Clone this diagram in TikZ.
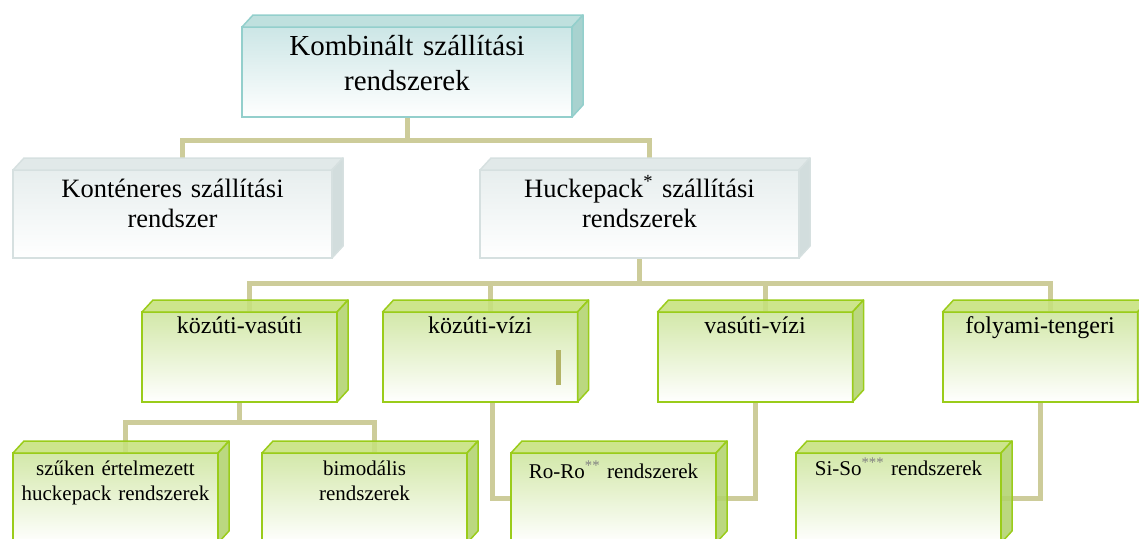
\documentclass[tikz,border=0pt]{standalone}
\usepackage{fontspec}
\setmainfont{Liberation Serif}
\usetikzlibrary{positioning,backgrounds}
\definecolor{tlEdge}{HTML}{93CFCC}
\definecolor{tlFront}{HTML}{CCE6E6}
\definecolor{tlMid}{HTML}{E2F0F0}
\definecolor{tlTop}{HTML}{BFE0DE}
\definecolor{tlSide}{HTML}{A8D2CF}
\definecolor{grEdge}{HTML}{D6E0E0}
\definecolor{grFront}{HTML}{E7EEEE}
\definecolor{grTop}{HTML}{E1E9E9}
\definecolor{grSide}{HTML}{D2DDDD}
\definecolor{gnEdge}{HTML}{9ACC1A}
\definecolor{gnFront}{HTML}{D3E8A9}
\definecolor{gnMid}{HTML}{E6F2D3}
\definecolor{gnTop}{HTML}{C6E17C}
\definecolor{gnSide}{HTML}{B2D36E}
\definecolor{lineC}{HTML}{CDCC9A}
\definecolor{barC}{HTML}{B3B466}
\tikzset{
 kb/.style
  = {draw=tlEdge, line width=2pt, top color=tlFront, middle color=tlMid, bottom color=white,
     inner sep=0pt, outer sep=0pt, minimum width=330pt, text width=320pt, align=center,
     text height=28pt, text depth=62pt, font=\fontsize{29}{35}\selectfont},
 sb/.style
  = {draw=grEdge, line width=2pt, top color=grFront, bottom color=white,
     inner sep=0pt, outer sep=0pt, minimum width=319pt, text width=310pt, align=center,
     text height=27pt, text depth=61pt, font=\fontsize{26.5}{30}\selectfont},
 gb/.style
  = {draw=gnEdge, line width=2pt, top color=gnFront, middle color=gnMid, bottom color=white,
     inner sep=0pt, outer sep=0pt, minimum width=195pt, text width=188pt, align=center,
     text height=21pt, text depth=69pt, font=\fontsize{24}{28}\selectfont},
 gbb/.style
  = {gb, minimum width=205pt, text width=198pt, text height=22pt, text depth=68pt,
     font=\fontsize{21}{25}\selectfont},
 conn/.style
  = {draw=lineC, line width=5pt},
 tlface/.style = {draw=tlEdge, line width=1.5pt, line join=round},
 grface/.style = {draw=grEdge, line width=1.5pt, line join=round},
 gnface/.style = {draw=gnEdge, line width=1.5pt, line join=round, fill opacity=0.88},
}
\begin{document}
\begin{tikzpicture}[x=1pt, y=-1pt]
  \useasboundingbox (0,0) rectangle (1139,538);
  \clip (0,0) rectangle (1139,538);

  % boxes
  \node [kb] (komb) at (407,72) {Kombinált szállítási\\ rendszerek};
  \node [sb] (kont) at (172.5,214) {Konténeres szállítási\\ rendszer};
  \node [sb] (huck) at (639.5,214) {Huckepack\textsuperscript{*} szállítási\\ rendszerek};

  \node [gb] (kvas) at (239.5,357) {közúti-vasúti};
  \node [gb] (kviz) at (480,357) {közúti-vízi};
  \node [gb] (vviz) at (755,357) {vasúti-vízi};
  \node [gb] (foly) at (1040,357) {folyami-tengeri};

  \node [gbb] (szuk) at (115.5,498) {szűken értelmezett\\ huckepack rendszerek};
  \node [gbb] (bimo) at (364.5,498) {bimodális\\ rendszerek};
  \node [gbb, text height=25pt, text depth=65pt] (roro) at (613.5,498)
    {Ro-Ro\textsuperscript{\textcolor{gray}{**}} rendszerek};
  \node [gbb] (siso) at (898.5,498)
    {Si-So\textsuperscript{\textcolor{gray}{***}} rendszerek};

  % depth faces
  \foreach \n in {komb} {
    \filldraw [tlface, fill=tlTop] (\n.north west) -- ++(11,-12) -- ([shift={(11,-12)}]\n.north east) -- (\n.north east) -- cycle;
    \filldraw [tlface, fill=tlSide] (\n.north east) -- ++(11,-12) -- ([shift={(11,-12)}]\n.south east) -- (\n.south east) -- cycle;
  }
  \foreach \n in {kont,huck} {
    \filldraw [grface, fill=grTop] (\n.north west) -- ++(11,-12) -- ([shift={(11,-12)}]\n.north east) -- (\n.north east) -- cycle;
    \filldraw [grface, fill=grSide] (\n.north east) -- ++(11,-12) -- ([shift={(11,-12)}]\n.south east) -- (\n.south east) -- cycle;
  }
  \foreach \n in {kvas,kviz,vviz,foly,szuk,bimo,roro,siso} {
    \filldraw [gnface, fill=gnTop] (\n.north west) -- ++(11,-12) -- ([shift={(11,-12)}]\n.north east) -- (\n.north east) -- cycle;
    \filldraw [gnface, fill=gnSide] (\n.north east) -- ++(11,-12) -- ([shift={(11,-12)}]\n.south east) -- (\n.south east) -- cycle;
  }

  \draw [draw=barC, line width=5pt] ([shift={(-19,-17)}]kviz.south east) -- ++(0,-35);

  % connectors
  \begin{scope}[on background layer]
    \path [conn] (komb.south) -- ++(0,23) -| ([xshift=10pt]kont.north);
    \path [conn] (komb.south) -- ++(0,23) -| ([xshift=10pt]huck.north);
    \foreach \n in {kvas,kviz,vviz,foly}
      \path [conn] (huck.south) -- ++(0,25) -| ([xshift=10pt]\n.north);
    \path [conn] (kvas.south) -- ++(0,20) -| ([xshift=10pt]szuk.north);
    \path [conn] (kvas.south) -- ++(0,20) -| ([xshift=10pt]bimo.north);
    \path [conn] ([xshift=12pt]kviz.south) |- (roro.west);
    \path [conn] (vviz.south) |- (roro.east);
    \path [conn] (foly.south) |- (siso.east);
  \end{scope}
\end{tikzpicture}
\end{document}
